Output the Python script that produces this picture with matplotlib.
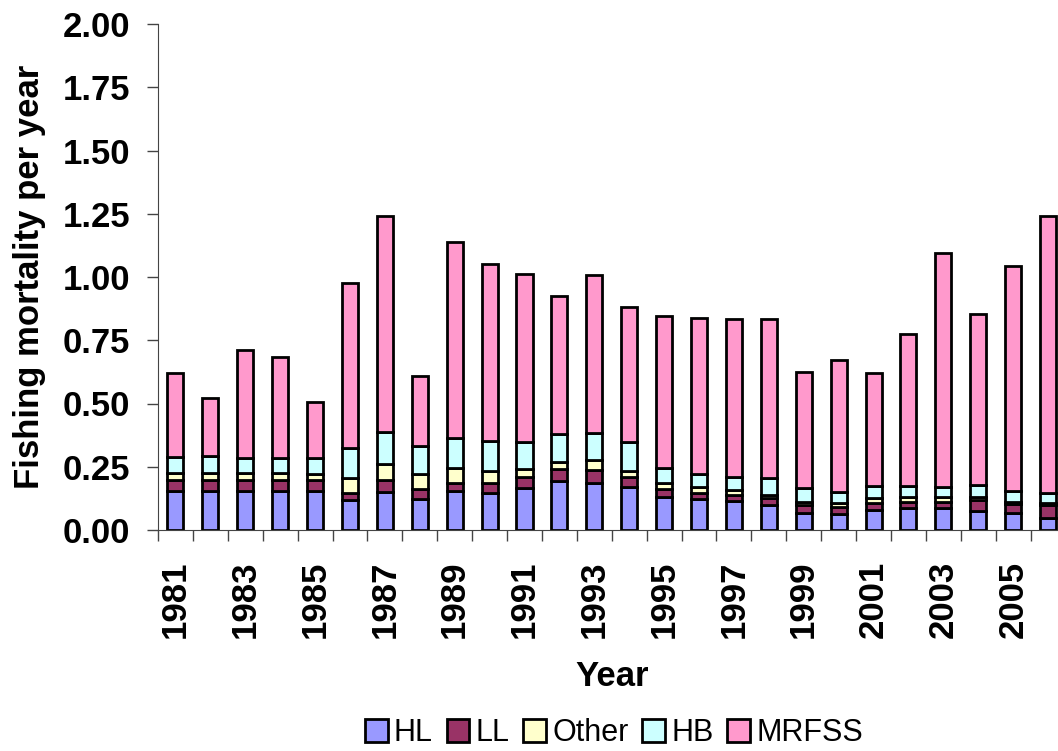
import numpy as np
import matplotlib
matplotlib.use("Agg")
import matplotlib.pyplot as plt

plt.rcParams['font.family'] = ['Liberation Sans', 'DejaVu Sans']

years = list(range(1981, 2007))
fleets = ['HL', 'LL', 'Other', 'HB', 'MRFSS']
colors = ['#9999FF', '#993366', '#FFFFCC', '#CCFFFF', '#FF99CC']

# fishing mortality by fleet (stacked segments)
hl = [.155, .155, .155, .155, .155, .119, .152, .121, .154, .148, .167, .195, .184,
      .169, .132, .121, .115, .099, .069, .063, .079, .088, .086, .076, .066, .046]
ll = [.041, .041, .041, .041, .041, .026, .046, .041, .033, .036, .044, .045, .053,
      .042, .029, .027, .023, .026, .030, .029, .029, .024, .026, .043, .037, .053]
other = [.030, .030, .030, .028, .025, .062, .063, .059, .059, .050, .031, .029, .040,
         .023, .026, .023, .020, .013, .013, .013, .020, .020, .017, .013, .009, .009]
hb = [.064, .066, .060, .062, .064, .116, .128, .112, .116, .118, .105, .109, .105,
      .113, .057, .050, .050, .066, .053, .046, .046, .042, .042, .046, .043, .039]
mrfss = [.330, .230, .426, .396, .220, .652, .851, .277, .778, .698, .663, .547, .626,
         .533, .601, .617, .627, .631, .460, .519, .446, .601, .924, .677, .890, 1.093]

series = [hl, ll, other, hb, mrfss]

fig = plt.figure(figsize=(10.58, 7.51), dpi=100)
ax = fig.add_axes([158 / 1058, (751 - 530) / 751, 907.5 / 1058, 506 / 751])

x = np.arange(len(years))
bottom = np.zeros(len(years))
for name, vals, col in zip(fleets, series, colors):
    ax.bar(x, vals, width=0.46, bottom=bottom, color=col, edgecolor='black',
           linewidth=2, label=name)
    bottom += np.array(vals)

ax.set_xlim(-0.5, len(years) - 0.5)
ax.set_ylim(0, 2.0)
ax.set_yticks(np.arange(0, 2.01, 0.25))
ax.set_yticklabels([f'{v:.2f}' for v in np.arange(0, 2.01, 0.25)],
                   fontsize=25, fontweight='bold')

ax.set_xticks(x[::2])
ax.set_xticklabels([str(y) for y in years[::2]], rotation=90,
                   fontsize=25, fontweight='bold')
ax.set_xticks(np.arange(-0.5, len(years), 1), minor=True)
ax.tick_params(axis='x', which='major', length=0, pad=22)
ax.tick_params(axis='x', which='minor', length=8, width=1, color='#444444')
ax.tick_params(axis='y', length=8, width=1, color='#444444', pad=12)

for s in ['top', 'right']:
    ax.spines[s].set_visible(False)
ax.spines['left'].set_color('#444444')
ax.spines['bottom'].set_color('#444444')

ax.set_xlabel('Year', fontsize=25, fontweight='bold', labelpad=16)
ax.set_ylabel('Fishing mortality per year', fontsize=25, fontweight='bold', labelpad=12)

fig.legend(loc='center', bbox_to_anchor=(614 / 1058, 1 - 733 / 751), ncol=5,
           frameon=False, fontsize=22, handlelength=0.75, handleheight=0.75,
           handletextpad=0.2, columnspacing=0.45)

fig.savefig('out.png', dpi=100)
